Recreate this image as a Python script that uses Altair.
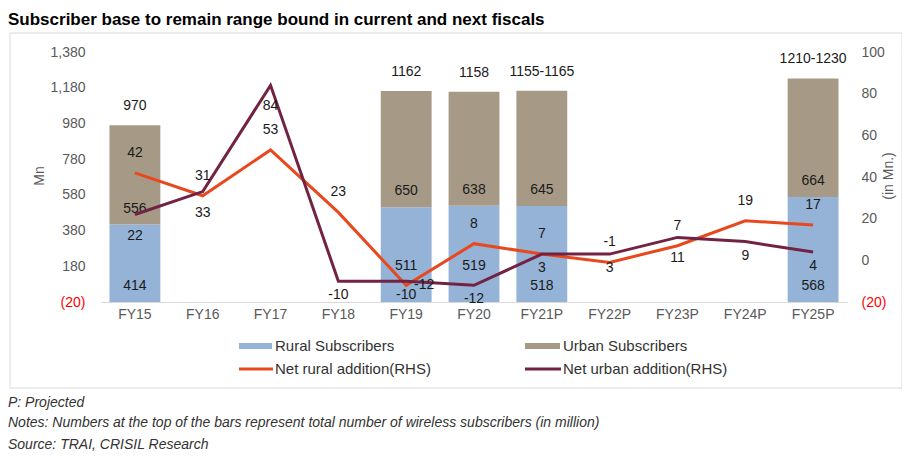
import altair as alt
import pandas as pd

# ---------------- data ----------------
categories = ["FY15", "FY16", "FY17", "FY18", "FY19", "FY20", "FY21P", "FY22P", "FY23P", "FY24P", "FY25P"]

bar_categories = ["FY15", "FY19", "FY20", "FY21P", "FY25P"]
rural_subs = [414, 511, 519, 518, 568]
urban_subs = [556, 650, 638, 645, 664]
total_labels = ["970", "1162", "1158", "1155-1165", "1210-1230"]

rural_add = [42, 31, 53, 23, -12, 8, 3, -1, 7, 19, 17]
rural_add_labels = ["42", "31", "53", "23", "-12", "8", "7", "-1", "7", "19", "17"]
urban_add = [22, 33, 84, -10, -10, -12, 3, 3, 11, 9, 4]
urban_add_labels = ["22", "33", "84", "-10", "-10", "-12", "3", "3", "11", "9", "4"]

left_ticks = [-20, 180, 380, 580, 780, 980, 1180, 1380]
right_ticks = [-20, 0, 20, 40, 60, 80, 100]

legend_labels = ["Rural Subscribers", "Urban Subscribers", "Net rural addition(RHS)", "Net urban addition(RHS)"]
title_text = "Subscriber base to remain range bound in current and next fiscals"
footnotes = [
    "P: Projected",
    "Notes: Numbers at the top of the bars represent total number of wireless subscribers (in million)",
    "Source: TRAI, CRISIL Research",
]
left_title = "Mn"
right_title = "(in Mn.)"

# ---------------- styles ----------------
FONT = "Liberation Sans"
C_RURAL = "#95B3D7"
C_URBAN = "#A69A87"
C_RADD = "#E8481E"
C_UADD = "#722343"
C_TXT = "#1a1a1a"
C_AX = "#595959"
W, H = 746, 250

bars_df = pd.DataFrame({"cat": bar_categories, "rural": rural_subs, "urban": urban_subs,
                        "total_label": total_labels})
bars_df["top"] = bars_df["rural"] + bars_df["urban"]
# lift the rural value label where the urban-addition label sits low in the same bar
bars_df["lift"] = [urban_add[categories.index(c)] < 0 for c in bar_categories]
lines_df = pd.DataFrame({"cat": categories, "rural_add": rural_add, "rural_lab": rural_add_labels,
                         "urban_add": urban_add, "urban_lab": urban_add_labels})
one = pd.DataFrame({"k": [0]})

label_expr = "datum.value < 0 ? '(' + format(-datum.value, ',') + ')' : format(datum.value, ',')"
label_color = {"condition": {"test": "datum.value < 0", "value": "#FF0000"}, "value": C_AX}

x_enc = alt.X("cat:N", sort=categories,
              scale=alt.Scale(domain=categories, paddingInner=0.25, paddingOuter=0.125),
              axis=alt.Axis(title=None, labelAngle=0, ticks=False, domainColor="#D9D9D9",
                            labelColor=C_AX, labelFontSize=14, labelPadding=5, labelFont=FONT))

left_scale = alt.Scale(domain=[-20, 1380], nice=False, zero=False)
left_axis = alt.Axis(values=left_ticks, labelExpr=label_expr, labelColor=label_color, title=None,
                     ticks=False, domain=False, grid=False, labelPadding=16, labelFontSize=14,
                     labelFont=FONT)
right_scale = alt.Scale(domain=[-20, 100], nice=False, zero=False)
right_axis = alt.Axis(orient="right", values=right_ticks, labelExpr=label_expr, labelColor=label_color,
                      title=None, ticks=False, domain=False, grid=False, labelPadding=14,
                      labelAlign="left", labelFontSize=14, labelFont=FONT)

# ---------------- bars (left axis) ----------------
rural_bar = alt.Chart(bars_df).mark_bar(color=C_RURAL).encode(
    x=x_enc, y=alt.Y("rural:Q", scale=left_scale, axis=left_axis), y2=alt.Y2Datum(-20))
urban_bar = alt.Chart(bars_df).mark_bar(color=C_URBAN).encode(
    x=x_enc, y=alt.Y("top:Q", scale=left_scale, axis=left_axis), y2="rural:Q")
rural_txt = alt.Chart(bars_df).transform_filter("!datum.lift").mark_text(
    dy=-16, fontSize=14, color=C_TXT).encode(
    x=x_enc, y=alt.YDatum(-20, scale=left_scale, axis=left_axis), text="rural:Q")
rural_txt_up = alt.Chart(bars_df).transform_filter("datum.lift").mark_text(
    dy=-36, fontSize=14, color=C_TXT).encode(
    x=x_enc, y=alt.YDatum(-20, scale=left_scale, axis=left_axis), text="rural:Q")
urban_txt = alt.Chart(bars_df).mark_text(dy=-16, fontSize=14, color=C_TXT).encode(
    x=x_enc, y=alt.Y("rural:Q", scale=left_scale, axis=left_axis), text="urban:Q")
total_txt = alt.Chart(bars_df).mark_text(dy=-19, fontSize=14, color=C_TXT).encode(
    x=x_enc, y=alt.Y("top:Q", scale=left_scale, axis=left_axis), text="total_label:N")
left = alt.layer(rural_bar, urban_bar, rural_txt, rural_txt_up, urban_txt, total_txt)

# ---------------- lines (right axis) ----------------
rural_line = alt.Chart(lines_df).mark_line(color=C_RADD, strokeWidth=3).encode(
    x=x_enc, y=alt.Y("rural_add:Q", scale=right_scale, axis=right_axis))
urban_line = alt.Chart(lines_df).mark_line(color=C_UADD, strokeWidth=3).encode(
    x=x_enc, y=alt.Y("urban_add:Q", scale=right_scale, axis=right_axis))
rural_lab = alt.Chart(lines_df).transform_filter("datum.rural_add >= -5").mark_text(
    dy=-20, fontSize=14, color=C_TXT).encode(
    x=x_enc, y=alt.Y("rural_add:Q", scale=right_scale, axis=right_axis), text="rural_lab:N")
rural_lab_r = alt.Chart(lines_df).transform_filter("datum.rural_add < -5").mark_text(
    dx=18, dy=0, fontSize=14, color=C_TXT).encode(
    x=x_enc, y=alt.Y("rural_add:Q", scale=right_scale, axis=right_axis), text="rural_lab:N")
urban_lab_hi = alt.Chart(lines_df).transform_filter("datum.urban_add >= 10").mark_text(
    dy=21, fontSize=14, color=C_TXT).encode(
    x=x_enc, y=alt.Y("urban_add:Q", scale=right_scale, axis=right_axis), text="urban_lab:N")
urban_lab_lo = alt.Chart(lines_df).transform_filter("datum.urban_add < 10").mark_text(
    dy=14, fontSize=14, color=C_TXT).encode(
    x=x_enc, y=alt.Y("urban_add:Q", scale=right_scale, axis=right_axis), text="urban_lab:N")
right = alt.layer(rural_line, urban_line, rural_lab, rural_lab_r, urban_lab_hi, urban_lab_lo)

# ---------------- decorations ----------------
frame = alt.Chart(one).mark_rect(fillOpacity=0, stroke="#D9D9D9", strokeWidth=1).encode(
    x=alt.value(-91), x2=alt.value(801), y=alt.value(-19), y2=alt.value(336))

def txt(s, x, y, size=14, **kw):
    return alt.Chart(one).mark_text(align="left", baseline="middle", fontSize=size, font=FONT, **kw).encode(
        x=alt.value(x), y=alt.value(y), text=alt.value(s))

title = txt(title_text, -93, -32, size=17, fontWeight="bold", color="#000000")
ytitle_l = alt.Chart(one).mark_text(align="center", baseline="middle", angle=270, fontSize=14,
                                    font=FONT, color=C_AX).encode(
    x=alt.value(-61), y=alt.value(124), text=alt.value(left_title))
ytitle_r = alt.Chart(one).mark_text(align="center", baseline="middle", angle=270, fontSize=14,
                                    font=FONT, color=C_AX).encode(
    x=alt.value(788), y=alt.value(124), text=alt.value(right_title))

leg_sw1 = alt.Chart(one).mark_rect(color=C_RURAL).encode(
    x=alt.value(138), x2=alt.value(171), y=alt.value(291), y2=alt.value(297))
leg_sw2 = alt.Chart(one).mark_rect(color=C_URBAN).encode(
    x=alt.value(424), x2=alt.value(459), y=alt.value(291), y2=alt.value(297))
leg_ln1 = alt.Chart(one).mark_rule(color=C_RADD, strokeWidth=3).encode(
    x=alt.value(138), x2=alt.value(172), y=alt.value(317))
leg_ln2 = alt.Chart(one).mark_rule(color=C_UADD, strokeWidth=3).encode(
    x=alt.value(424), x2=alt.value(460), y=alt.value(317))
leg_t1 = txt(legend_labels[0], 174, 294, size=15, color="#333333")
leg_t2 = txt(legend_labels[1], 462, 294, size=15, color="#333333")
leg_t3 = txt(legend_labels[2], 174, 317, size=15, color="#333333")
leg_t4 = txt(legend_labels[3], 462, 317, size=15, color="#333333")

fn1 = txt(footnotes[0], -93, 351, size=14, fontStyle="italic", color="#333333")
fn2 = txt(footnotes[1], -93, 371, size=14, fontStyle="italic", color="#333333")
fn3 = txt(footnotes[2], -93, 393, size=14, fontStyle="italic", color="#333333")

chart = alt.layer(
    frame, left, right, title, ytitle_l, ytitle_r,
    leg_sw1, leg_sw2, leg_ln1, leg_ln2, leg_t1, leg_t2, leg_t3, leg_t4, fn1, fn2, fn3
).resolve_scale(y="independent").properties(
    width=W, height=H,
    padding={"left": 93, "top": 44, "right": 55, "bottom": 150},
    autosize=alt.AutoSizeParams(type="none"),
).configure_view(stroke=None).configure_text(font=FONT)

chart.save("out.html", embed_options={"renderer": "svg", "actions": False})
